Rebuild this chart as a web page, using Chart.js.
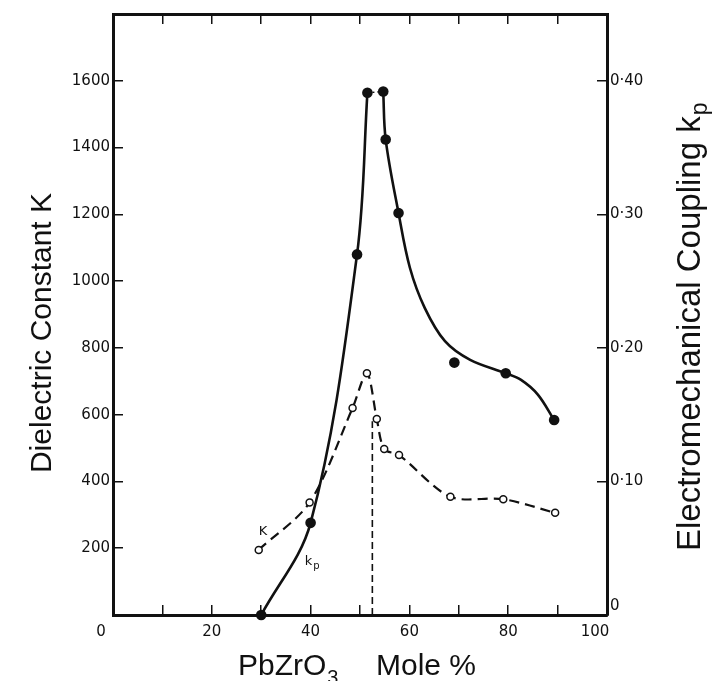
<!DOCTYPE html>
<html>
<head>
<meta charset="utf-8">
<script src="https://cdn.jsdelivr.net/npm/chart.js@4.4.1/dist/chart.umd.min.js"></script>
<style>
  html, body { margin: 0; padding: 0; background: #ffffff; }
  #wrap { width: 714px; height: 681px; }
</style>
</head>
<body>
<div id="wrap"><canvas id="c" width="714" height="681"></canvas></div>
<script>
// ---- data ----
// measured points (filled circles): electromechanical coupling kp
const kpComposition = [30.0, 40.0, 49.4, 51.5, 54.7, 55.2, 57.8, 69.1, 79.5, 89.3];
const kpValues      = [0.000, 0.069, 0.270, 0.391, 0.392, 0.356, 0.301, 0.189, 0.181, 0.146];

// hand-drawn kp curve on the PbZrO3-rich side
const kpCurveComposition = [54.7, 55.2, 57.8, 60.1, 63.1, 67.2, 72.3, 79.5, 82.6, 86.0, 89.3];
const kpCurveValues      = [0.392, 0.356, 0.301, 0.260, 0.230, 0.205, 0.191, 0.181, 0.176, 0.165, 0.146];

// measured points (open circles): dielectric constant K
const kComposition  = [29.5, 39.8, 48.5, 51.4, 53.4, 54.9, 57.9, 68.3, 79.0, 89.5];
const kValues       = [195, 337, 620, 724, 587, 497, 479, 354, 347, 306];

// dashed vertical line at the phase boundary
const boundaryX = [52.5, 52.5];
const boundaryK = [0, 580];

const xTickValues   = [0, 20, 40, 60, 80, 100];
const xTickLabels   = ['0', '20', '40', '60', '80', '100'];
const leftTickValues = [200, 400, 600, 800, 1000, 1200, 1400, 1600];
const leftTickLabels = ['200', '400', '600', '800', '1000', '1200', '1400', '1600'];
const rightTickValues = [0, 10, 20, 30, 40];           // hundredths of kp
const rightTickLabels = ['0', '0\u00b710', '0\u00b720', '0\u00b730', '0\u00b740'];

const curveLabels  = ['K', 'k'];
const curveLabelX  = [29.5, 38.8];
const curveLabelK  = [249, 159];
const curveLabelSub = ['', 'p'];

const xTitleMain = 'PbZrO';
const xTitleSub = '3';
const xTitleTail = 'Mole %';
const leftTitle = 'Dielectric Constant K';
const rightTitleMain = 'Electromechanical Coupling k';
const rightTitleSub = 'p';

// ---- build ----
const toPts = (xs, ys) => xs.map((x, i) => ({ x: x, y: ys[i] }));
const kpPoints = toPts(kpComposition, kpValues);
const kpLeftBranch = kpPoints.slice(0, 4);
const kpPeakLink = kpPoints.slice(3, 5);
const kpRightBranch = toPts(kpCurveComposition, kpCurveValues);
const kPoints = toPts(kComposition, kValues);
const boundaryPoints = toPts(boundaryX, boundaryK);

const tickFont = { family: 'DejaVu Sans', size: 15 };
const black = '#111111';

function fixSize(prop, v) {
  return function (scale) {
    scale[prop] = v;
    scale.paddingTop = 0; scale.paddingBottom = 0;
    scale.paddingLeft = 0; scale.paddingRight = 0;
  };
}

const titlesPlugin = {
  id: 'titles',
  afterDraw(chart) {
    const ctx = chart.ctx;
    const sx = chart.scales.x, sy = chart.scales.yL;
    ctx.save();
    ctx.fillStyle = black;
    ctx.textBaseline = 'alphabetic';
    ctx.textAlign = 'left';

    // x title
    ctx.font = '30px "Liberation Sans"';
    ctx.fillText(xTitleMain, 238, 675);
    const w1 = ctx.measureText(xTitleMain).width;
    ctx.font = '20px "Liberation Sans"';
    ctx.fillText(xTitleSub, 238 + w1 + 1, 684);
    ctx.font = '30px "Liberation Sans"';
    ctx.fillText(xTitleTail, 376, 675);

    // left title
    ctx.save();
    ctx.translate(51, 333);
    ctx.rotate(-Math.PI / 2);
    ctx.textAlign = 'center';
    ctx.font = '30px "Liberation Sans"';
    ctx.fillText(leftTitle, 0, 0);
    ctx.restore();

    // right title
    ctx.save();
    ctx.translate(700, 551);
    ctx.rotate(-Math.PI / 2);
    ctx.font = '33px "Liberation Sans"';
    ctx.fillText(rightTitleMain, 0, 0);
    const w2 = ctx.measureText(rightTitleMain).width;
    ctx.font = '23px "Liberation Sans"';
    ctx.fillText(rightTitleSub, w2 + 1, 7);
    ctx.restore();

    // curve labels
    for (let i = 0; i < curveLabels.length; i++) {
      const px = sx.getPixelForValue(curveLabelX[i]);
      const py = sy.getPixelForValue(curveLabelK[i]);
      ctx.font = '13px "DejaVu Sans"';
      ctx.textBaseline = 'middle';
      ctx.fillText(curveLabels[i], px, py);
      if (curveLabelSub[i]) {
        const w = ctx.measureText(curveLabels[i]).width;
        ctx.font = '10px "DejaVu Sans"';
        ctx.fillText(curveLabelSub[i], px + w + 1, py + 4);
      }
    }
    ctx.restore();
  }
};

const bgPlugin = {
  id: 'bg',
  beforeDraw(chart) {
    const ctx = chart.ctx;
    ctx.save();
    ctx.fillStyle = '#ffffff';
    ctx.fillRect(0, 0, chart.width, chart.height);
    ctx.restore();
  }
};

const solidCurve = {
  yAxisID: 'yR',
  borderColor: black,
  borderWidth: 2.6,
  pointRadius: 0,
  tension: 0.35,
  clip: false
};

new Chart(document.getElementById('c'), {
  type: 'line',
  data: {
    datasets: [
      Object.assign({ label: 'kp curve (left)', data: kpLeftBranch }, solidCurve),
      Object.assign({ label: 'kp curve (right)', data: kpRightBranch }, solidCurve),
      {
        label: 'kp peak link',
        data: kpPeakLink,
        yAxisID: 'yR',
        borderColor: black,
        borderWidth: 1.5,
        borderDash: [2, 3],
        pointRadius: 0,
        tension: 0,
        clip: false
      },
      {
        label: 'kp',
        data: kpPoints,
        yAxisID: 'yR',
        showLine: false,
        pointRadius: 5.3,
        pointBorderWidth: 0,
        pointBackgroundColor: black,
        clip: false
      },
      {
        label: 'K',
        data: kPoints,
        yAxisID: 'yL',
        borderColor: black,
        borderWidth: 2.2,
        borderDash: [10, 6],
        pointRadius: 3.5,
        pointBorderWidth: 1.5,
        pointBorderColor: black,
        pointBackgroundColor: '#ffffff',
        tension: 0.3,
        clip: false
      },
      {
        label: 'boundary',
        data: boundaryPoints,
        yAxisID: 'yL',
        borderColor: black,
        borderWidth: 1.6,
        borderDash: [7, 4],
        pointRadius: 0,
        tension: 0
      }
    ]
  },
  options: {
    responsive: false,
    animation: false,
    events: [],
    layout: { padding: 0 },
    plugins: {
      legend: { display: false },
      tooltip: { enabled: false },
      title: { display: false }
    },
    scales: {
      x: {
        type: 'linear',
        position: 'bottom',
        min: 0, max: 100,
        afterFit: fixSize('height', 66),
        border: { display: true, color: black, width: 3 },
        grid: { drawOnChartArea: false, drawTicks: true, tickLength: -10, color: black, lineWidth: 1.5 },
        ticks: {
          stepSize: 10,
          autoSkip: false,
          maxRotation: 0,
          padding: 18,
          color: black,
          font: tickFont,
          callback: function (v) {
            const i = xTickValues.indexOf(Math.round(v));
            if (i < 0) return '';
            if (i === 0 || i === xTickValues.length - 1) return xTickLabels[i] + '     ';
            return xTickLabels[i];
          }
        }
      },
      xTop: {
        type: 'linear',
        position: 'top',
        min: 0, max: 100,
        afterFit: fixSize('height', 14),
        border: { display: true, color: black, width: 3 },
        grid: { drawOnChartArea: false, drawTicks: true, tickLength: -10, color: black, lineWidth: 1.5 },
        ticks: { stepSize: 10, autoSkip: false, display: false }
      },
      yL: {
        type: 'linear',
        position: 'left',
        min: 0, max: 1800,
        afterFit: fixSize('width', 113),
        border: { display: true, color: black, width: 3 },
        grid: { drawOnChartArea: false, drawTicks: true, tickLength: -10, color: black, lineWidth: 1.5 },
        ticks: {
          stepSize: 200,
          autoSkip: false,
          padding: 13,
          color: black,
          font: tickFont,
          callback: function (v) {
            const i = leftTickValues.indexOf(Math.round(v));
            return i < 0 ? '' : leftTickLabels[i];
          }
        }
      },
      yR: {
        type: 'linear',
        position: 'right',
        min: 0, max: 0.45,
        afterFit: fixSize('width', 107),
        border: { display: true, color: black, width: 3 },
        grid: { drawOnChartArea: false, drawTicks: true, tickLength: -10, color: black, lineWidth: 1.5 },
        ticks: {
          stepSize: 0.1,
          autoSkip: false,
          padding: 13,
          color: black,
          font: tickFont,
          callback: function (v) {
            const i = rightTickValues.indexOf(Math.round(v * 100));
            if (i < 0) return '';
            if (i === 0) return [rightTickLabels[i], ''];
            return rightTickLabels[i];
          }
        }
      }
    }
  },
  plugins: [bgPlugin, titlesPlugin]
});
</script>
</body>
</html>
